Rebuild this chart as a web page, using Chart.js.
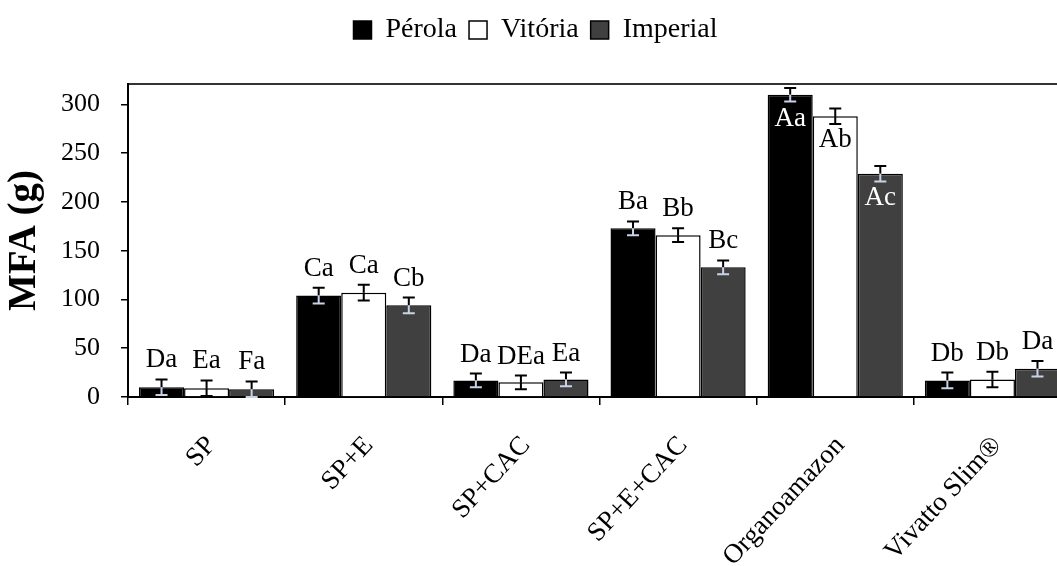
<!DOCTYPE html>
<html>
<head>
<meta charset="utf-8">
<script src="https://cdn.jsdelivr.net/npm/chart.js@4"></script>
<style>
    html, body { margin: 0; padding: 0; background: #fff; overflow: hidden; }
    #wrap { width: 1085px; height: 566px; }
</style>
</head>
<body>
<div id="wrap"><canvas id="mfa-chart" width="1085" height="566"></canvas></div>
<script>
const categories = ['SP', 'SP+E', 'SP+CAC', 'SP+E+CAC', 'Organoamazon', 'Vivatto Slim®'];
const seriesNames = ['Pérola', 'Vitória', 'Imperial'];

const perola = [10, 104, 17, 173, 310, 17];
const vitoria = [9, 107, 15, 166, 288, 18];
const imperial = [8, 94, 18, 133, 229, 29];

const perolaErr = [8, 8, 7, 7, 7, 8];
const vitoriaErr = [8, 8, 7, 7, 8, 8];
const imperialErr = [8, 8, 7, 7, 8, 8];

const perolaLetters = ['Da', 'Ca', 'Da', 'Ba', 'Aa', 'Db'];
const vitoriaLetters = ['Ea', 'Ca', 'DEa', 'Bb', 'Ab', 'Db'];
const imperialLetters = ['Fa', 'Cb', 'Ea', 'Bc', 'Ac', 'Da'];

const yTicks = [0, 50, 100, 150, 200, 250, 300];

const serif = 'Liberation Serif, Times New Roman, serif';

// legend takes a fixed band so the plot top lands where it should
const legendBand = {
    id: 'legendBand',
    beforeInit(chart) {
        const fit = chart.legend.fit;
        chart.legend.fit = function () {
            fit.bind(chart.legend)();
            this.height = 80;
        };
    }
};

// error bars + letter labels
const errorLabels = {
    id: 'errorLabels',
    afterDatasetsDraw(chart) {
        const ctx = chart.ctx;
        const y = chart.scales.y;
        const area = chart.chartArea;
        const capHeight = 18;
        ctx.save();
        ctx.font = '27px ' + serif;
        ctx.textAlign = 'center';
        ctx.textBaseline = 'alphabetic';

        // first find which groups have no room above
        const inside = categories.map((c, j) => chart.data.datasets.some(ds => {
            const top = y.getPixelForValue(ds.data[j] + ds.errors[j]);
            return top - 12 - capHeight < area.top;
        }));

        chart.data.datasets.forEach((ds, i) => {
            const meta = chart.getDatasetMeta(i);
            meta.data.forEach((bar, j) => {
                const x = bar.x;
                const barTop = bar.y;
                const hi = y.getPixelForValue(ds.data[j] + ds.errors[j]);
                const lo = y.getPixelForValue(ds.data[j] - ds.errors[j]);
                const innerColor = ds.darkFill ? '#c9d3e8' : '#000';
                ctx.lineWidth = 2;

                ctx.strokeStyle = '#000';
                ctx.beginPath();
                ctx.moveTo(x, hi);
                ctx.lineTo(x, Math.min(barTop, lo));
                ctx.moveTo(x - 6, hi);
                ctx.lineTo(x + 6, hi);
                ctx.stroke();

                ctx.strokeStyle = innerColor;
                ctx.beginPath();
                ctx.moveTo(x, barTop);
                ctx.lineTo(x, lo);
                ctx.moveTo(x - 6, lo);
                ctx.lineTo(x + 6, lo);
                ctx.stroke();

                if (inside[j]) {
                    ctx.fillStyle = ds.darkFill ? '#fff' : '#000';
                    ctx.fillText(ds.letters[j], x, barTop + 31);
                } else {
                    ctx.fillStyle = '#000';
                    ctx.fillText(ds.letters[j], x, hi - 12);
                }
            });
        });
        ctx.restore();
    }
};

const canvas = document.getElementById('mfa-chart');

new Chart(canvas, {
    type: 'bar',
    data: {
        labels: categories,
        datasets: [
            {
                label: seriesNames[0],
                data: perola,
                errors: perolaErr,
                letters: perolaLetters,
                darkFill: true,
                backgroundColor: '#000000',
                borderColor: '#000000',
                borderWidth: 1.5
            },
            {
                label: seriesNames[1],
                data: vitoria,
                errors: vitoriaErr,
                letters: vitoriaLetters,
                darkFill: false,
                backgroundColor: '#ffffff',
                borderColor: '#000000',
                borderWidth: 1.5
            },
            {
                label: seriesNames[2],
                data: imperial,
                errors: imperialErr,
                letters: imperialLetters,
                darkFill: true,
                backgroundColor: '#404040',
                borderColor: '#000000',
                borderWidth: 1.5
            }
        ]
    },
    options: {
        responsive: false,
        animation: false,
        devicePixelRatio: 1,
        layout: { padding: { left: 0, right: 14, top: 4, bottom: 0 } },
        datasets: {
            bar: { categoryPercentage: 0.86, barPercentage: 1.0 }
        },
        plugins: {
            legend: {
                position: 'top',
                labels: {
                    color: '#000',
                    font: { family: serif, size: 28 },
                    boxWidth: 18,
                    boxHeight: 18,
                    padding: 12
                }
            },
            tooltip: { enabled: false }
        },
        scales: {
            x: {
                type: 'category',
                position: 'bottom',
                afterFit(scale) { scale.height = 169; },
                grid: {
                    display: true,
                    offset: true,
                    drawOnChartArea: false,
                    drawTicks: true,
                    tickLength: 8,
                    color: '#000',
                    lineWidth: 1.5
                },
                border: { display: true, color: '#000', width: 2 },
                ticks: {
                    color: '#000',
                    font: { family: serif, size: 27 },
                    minRotation: 47,
                    maxRotation: 47,
                    padding: 25,
                    labelOffset: 5,
                    autoSkip: false
                }
            },
            xTop: {
                type: 'category',
                position: 'top',
                labels: categories,
                afterFit(scale) { scale.height = 0; },
                grid: { display: false },
                border: { display: true, color: '#333', width: 2 },
                ticks: { display: false }
            },
            y: {
                min: 0,
                max: 321,
                afterFit(scale) { scale.width = 128; },
                afterBuildTicks(scale) { scale.ticks = yTicks.map(v => ({ value: v })); },
                grid: {
                    display: true,
                    drawOnChartArea: false,
                    drawTicks: true,
                    tickLength: 7,
                    color: '#000',
                    lineWidth: 1.5
                },
                border: { display: true, color: '#000', width: 2 },
                ticks: {
                    color: '#000',
                    font: { family: serif, size: 26 },
                    padding: 21
                },
                title: {
                    display: true,
                    text: 'MFA (g)',
                    color: '#000',
                    font: { family: serif, size: 39, weight: 'bold' },
                    padding: { top: 2, bottom: 0 }
                }
            }
        }
    },
    plugins: [legendBand, errorLabels]
});
</script>
</body>
</html>
